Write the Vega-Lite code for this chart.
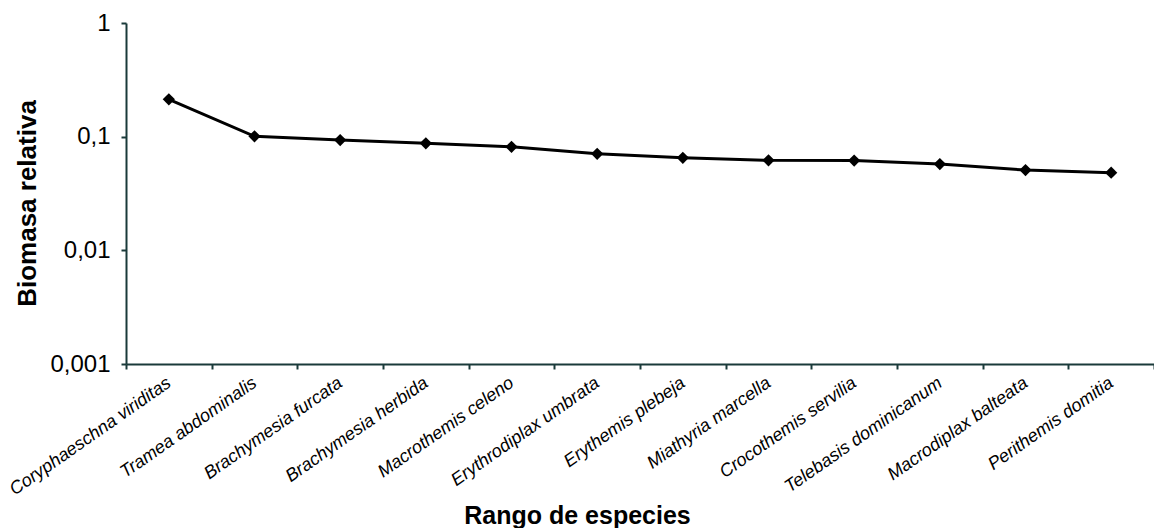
{
  "$schema": "https://vega.github.io/schema/vega-lite/v6.json",
  "autosize": {"type": "none"},
  "width": 1028,
  "height": 341,
  "padding": {"left": 126, "top": 23, "right": 0, "bottom": 164},
  "background": "white",
  "config": {
    "view": {"stroke": null},
    "font": "Liberation Sans"
  },
  "data": {
    "values": [
      {"especie": "Coryphaeschna viriditas", "biomasa": 0.213},
      {"especie": "Tramea abdominalis", "biomasa": 0.1006},
      {"especie": "Brachymesia furcata", "biomasa": 0.0934},
      {"especie": "Brachymesia herbida", "biomasa": 0.0873},
      {"especie": "Macrothemis celeno", "biomasa": 0.0815},
      {"especie": "Erythrodiplax umbrata", "biomasa": 0.0707},
      {"especie": "Erythemis plebeja", "biomasa": 0.0652},
      {"especie": "Miathyria marcella", "biomasa": 0.0619},
      {"especie": "Crocothemis servilia", "biomasa": 0.0617},
      {"especie": "Telebasis dominicanum", "biomasa": 0.0574},
      {"especie": "Macrodiplax balteata", "biomasa": 0.0508},
      {"especie": "Perithemis domitia", "biomasa": 0.0482}
    ]
  },
  "encoding": {
    "x": {
      "field": "especie",
      "type": "nominal",
      "sort": null,
      "bandPosition": 0.5,
      "scale": {"type": "band", "paddingInner": 0, "paddingOuter": 0},
      "axis": {
        "title": "Rango de especies",
        "titleFont": "Liberation Sans",
        "titleFontSize": 25,
        "titleFontWeight": "bold",
        "titleColor": "black",
        "titleX": 451,
        "titleY": 151,
        "titleBaseline": "middle",
        "titleAlign": "center",
        "tickBand": "extent",
        "labelAngle": -35,
        "labelAlign": "right",
        "labelBaseline": "middle",
        "labelPadding": 12,
        "labelFont": "Liberation Sans",
        "labelFontSize": 18,
        "labelFontStyle": "italic",
        "labelColor": "black",
        "labelOverlap": false,
        "labelLimit": 0,
        "domainColor": "#1a3a3a",
        "domainWidth": 2,
        "tickColor": "#1a3a3a",
        "tickWidth": 2,
        "tickSize": 5,
        "grid": false
      }
    },
    "y": {
      "field": "biomasa",
      "type": "quantitative",
      "scale": {"type": "log", "domain": [0.001, 1], "nice": false},
      "axis": {
        "title": "Biomasa relativa",
        "titleFont": "Liberation Sans",
        "titleFontSize": 26,
        "titleFontWeight": "bold",
        "titleColor": "black",
        "titleX": -99,
        "titleY": 180,
        "titleAngle": -90,
        "titleBaseline": "middle",
        "titleAlign": "center",
        "values": [0.001, 0.01, 0.1, 1],
        "labelExpr": "replace(format(datum.value, ''), '.', ',')",
        "labelFont": "Liberation Sans",
        "labelFontSize": 24,
        "labelColor": "black",
        "labelPadding": 11,
        "domainColor": "#1a3a3a",
        "domainWidth": 2,
        "tickColor": "#1a3a3a",
        "tickWidth": 2,
        "tickSize": 5,
        "grid": false
      }
    }
  },
  "layer": [
    {"mark": {"type": "line", "color": "black", "strokeWidth": 3}},
    {"mark": {"type": "point", "shape": "diamond", "filled": true, "color": "black", "size": 150, "opacity": 1}}
  ]
}
